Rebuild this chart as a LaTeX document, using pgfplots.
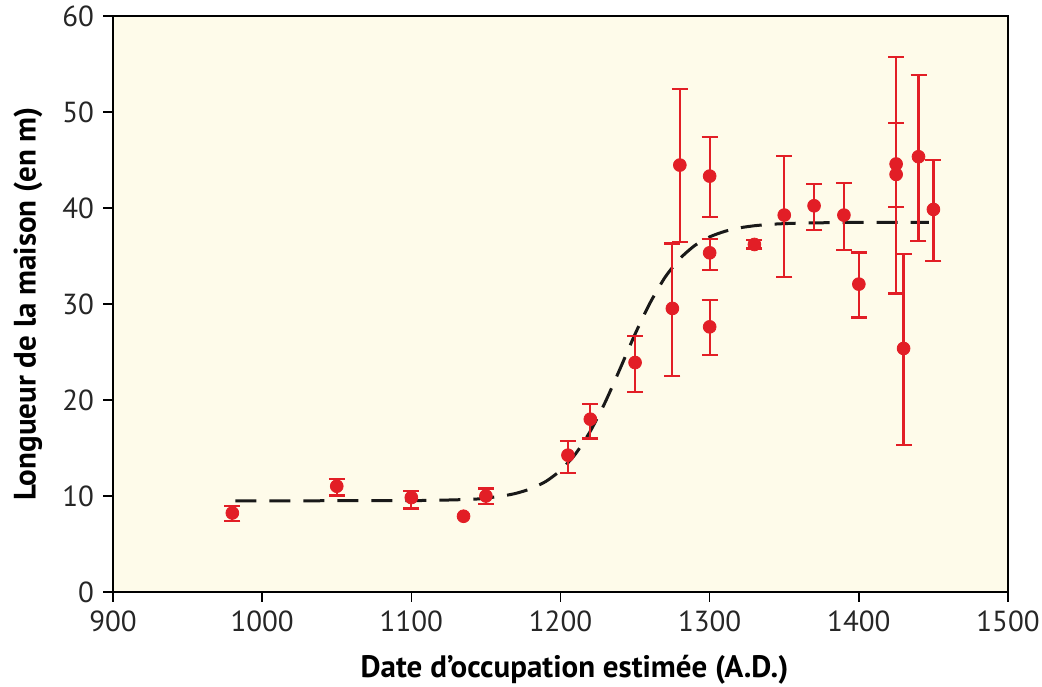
\documentclass[border=0pt]{standalone}
\usepackage{fontspec}
\setmainfont{PT Sans}
\usepackage{pgfplots}
\pgfplotsset{compat=1.18}
\usepackage{pgfplotstable}
\definecolor{bgc}{RGB}{254,251,234}
\definecolor{ptred}{RGB}{226,30,38}
\pgfplotstableread{
x y ep em
980 8.23 0.70 0.83
1050 11.02 0.76 0.97
1100 9.84 0.69 1.15
1150 10.00 0.78 0.86
1205 14.25 1.49 1.85
1220 18.00 1.56 2.01
1250 23.90 2.75 3.06
1275 29.54 6.77 7.03
1280 44.47 7.89 7.99
1300 43.32 4.04 4.24
1300 35.33 1.40 1.80
1300 27.62 2.78 2.95
1330 36.20 0.45 0.41
1350 39.26 6.15 6.43
1370 40.23 2.29 2.53
1390 39.26 3.37 3.65
1400 32.07 3.30 3.47
1425 44.58 4.24 4.45
1425 43.50 12.26 12.40
1430 25.37 9.83 10.08
1440 45.34 8.51 8.79
1450 39.85 5.14 5.38
}\pts
\pgfplotstableread{
x y
1135 7.89
}\ptsnoerr
\pgfplotstableread{
x y
982 9.50
1100 9.52
1140 9.65
1150 9.79
1160 9.97
1170 10.27
1180 10.75
1190 11.50
1200 12.66
1210 14.37
1220 16.75
1230 19.78
1240 23.28
1250 26.87
1260 30.10
1270 32.76
1280 34.72
1290 36.09
1300 36.99
1310 37.56
1320 37.93
1330 38.15
1340 38.29
1350 38.37
1360 38.42
1380 38.47
1400 38.50
1447 38.50
}\fit
\begin{document}
\begin{tikzpicture}
\begin{axis}[
  scale only axis,
  width=447.5pt, height=288pt,
  xmin=900, xmax=1500, ymin=0, ymax=60,
  xtick={900,1000,...,1500}, ytick={0,10,...,60},
  axis background/.style={fill=bgc},
  axis line style={line width=1pt, black},
  tick style={line width=0.8pt, black},
  tick align=outside, major tick length=5pt,
  xtick pos=bottom, ytick pos=left,
  /pgf/number format/assume math mode=true,
  /pgf/number format/1000 sep={},
  ticklabel style={font=\fontsize{14.5}{16}\selectfont, text=black!85},
  xticklabel style={yshift=-1pt},
  yticklabel style={xshift=-1pt},
  xlabel={Date d’occupation estimée (A.D.)},
  ylabel={Longueur de la maison (en m)},
  label style={font=\bfseries\fontsize{15.5}{18}\selectfont},
  xlabel style={at={(axis description cs:0.5,0)}, anchor=center, yshift=-39pt, xshift=7pt},
  ylabel style={at={(axis description cs:0,0.5)}, anchor=center, yshift=42.5pt},
]
\addplot[black!90, line width=1.5pt, dash pattern=on 10.5pt off 6.5pt, smooth, tension=0.4] table[x=x,y=y] {\fit};
\addplot[ptred, only marks, mark=*, mark size=3.2pt,
  error bars/.cd, y dir=both, y explicit,
  error bar style={line width=1.1pt, ptred},
  error mark options={rotate=90, mark size=4pt, line width=1.1pt, ptred}]
  table[x=x, y=y, y error plus=ep, y error minus=em] {\pts};
\addplot[ptred, only marks, mark=*, mark size=3.2pt] table[x=x,y=y] {\ptsnoerr};
\end{axis}
\pgfresetboundingbox
\path (current axis.south west) ++(-56.5pt,-47.5pt) coordinate (bl);
\path (current axis.north east) ++(17pt,8pt) coordinate (tr);
\path (bl) rectangle (tr);
\end{tikzpicture}
\end{document}
